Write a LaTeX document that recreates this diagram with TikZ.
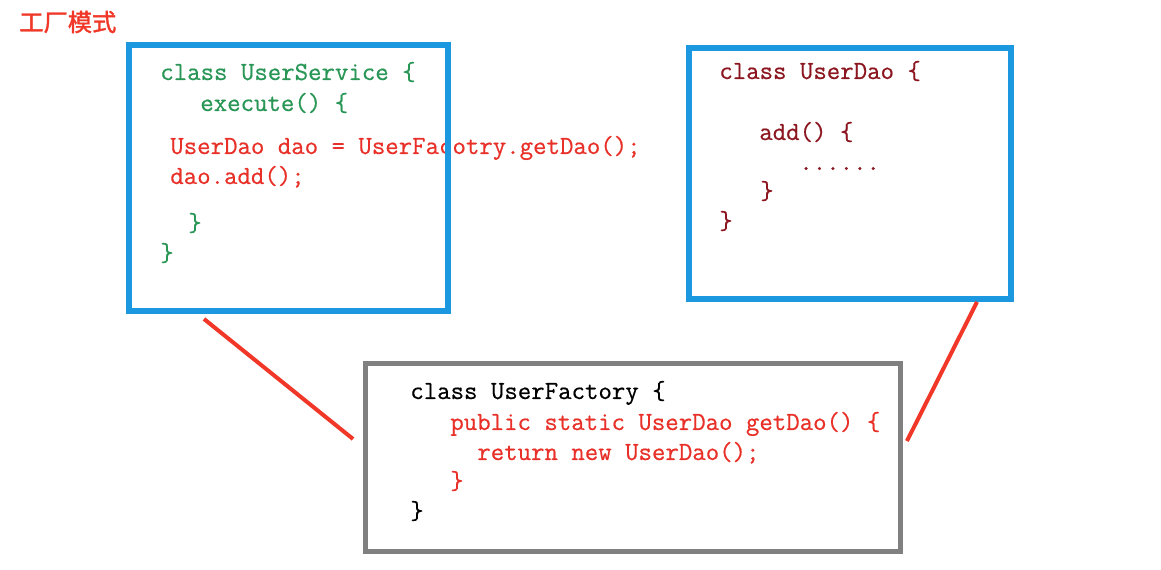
\documentclass[tikz,border=0pt]{standalone}
\usepackage{fontspec}
\newfontfamily\cjk[AutoFakeBold=1.5]{Noto Sans CJK SC}
\newfontfamily\codefont[FakeBold=0.5]{Latin Modern Mono}

\definecolor{boxblue}{RGB}{27,152,224}
\definecolor{boxgray}{RGB}{128,128,128}
\definecolor{svcgreen}{RGB}{40,150,85}
\definecolor{codered}{RGB}{232,48,40}
\definecolor{daored}{RGB}{140,22,32}
\definecolor{linkred}{RGB}{240,55,40}

\tikzset{
  code/.style={anchor=base west, inner sep=0pt, font=\codefont\fontsize{14.85}{16}\selectfont},
  frame/.style={draw, outer sep=0pt, inner sep=0pt},
  link/.style={draw=linkred, line width=0.08cm},
}

\begin{document}
\begin{tikzpicture}[x=0.02cm, y=-0.02cm]
\useasboundingbox[fill=white] (0,0) rectangle (1161,570);

% --- Title ---
\node[anchor=west, inner sep=0pt, text=linkred, font=\cjk\bfseries\fontsize{13.8}{15}\selectfont] (title) at (19,22) {工厂模式};

% --- UserService ---
\foreach \x/\y/\c/\t [count=\k] in {160/80/svcgreen/{class UserService \{},
                                    200/111/svcgreen/{execute() \{},
                                    170/154/codered/{UserDao dao = UserFacotry.getDao();},
                                    170/184/codered/{dao.add();},
                                    188/231/svcgreen/{\}},
                                    160/261/svcgreen/{\}}} {
    \node[code, text=\c] (svc\k) at (\x,\y) {\t};
}
\node[frame, draw=boxblue, line width=0.12cm, minimum width=6.38cm, minimum height=5.32cm] (svc) at (288.5,178) {};

% --- UserDao ---
\foreach \x/\y/\t [count=\k] in {719/79/{class UserDao \{},
                                 759/140/{add() \{},
                                 799/170/{......},
                                 760/199/{\}},
                                 719/229/{\}}} {
    \node[code, text=daored] (dao\k) at (\x,\y) {\t};
}
\node[frame, draw=boxblue, line width=0.12cm, minimum width=6.44cm, minimum height=5.02cm] (dao) at (850,173.5) {};

% --- UserFactory ---
\foreach \x/\y/\c/\t [count=\k] in {410/399/black/{class UserFactory \{},
                                    450/430/codered/{public static UserDao getDao() \{},
                                    477/460/codered/{return new UserDao();},
                                    450/489/codered/{\}},
                                    410/519/black/{\}}} {
    \node[code, text=\c] (fac\k) at (\x,\y) {\t};
}
\node[frame, draw=boxgray, line width=0.1cm, minimum width=10.72cm, minimum height=3.78cm] (fac) at (633,457.5) {};

% --- Links ---
\draw[link] ([shift={(-84.5,8)}]svc.south) -- ([shift={(-12,-18.5)}]fac.west);
\draw[link] ([shift={(127,3)}]dao.south) -- ([shift={(6,-16.5)}]fac.east);

\end{tikzpicture}
\end{document}
